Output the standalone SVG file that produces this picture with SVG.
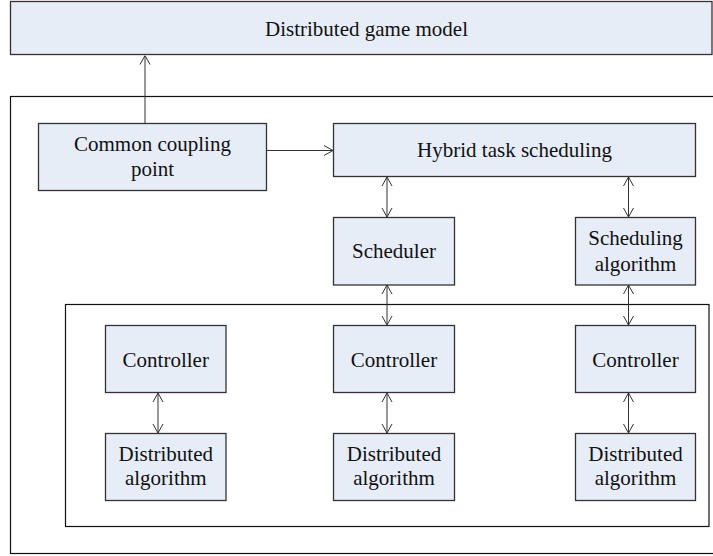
<svg xmlns="http://www.w3.org/2000/svg" width="713" height="556" viewBox="0 0 713 556">
<style>
.box{fill:#E7EDF7;stroke:#333;stroke-width:1.3}
.frame{fill:none;stroke:#111;stroke-width:1.2}
.t{font-family:'Liberation Serif',serif;font-size:21px;fill:#111;text-anchor:middle}
.c{stroke:#333;stroke-width:1;fill:none}
</style>
<defs>
<marker id="ah" viewBox="0 0 10 12" refX="10" refY="6" markerWidth="10" markerHeight="12" markerUnits="userSpaceOnUse" orient="auto-start-reverse">
<path d="M1,1 L10,6 L1,11" fill="none" stroke="#333" stroke-width="1"/>
</marker>
</defs>
<rect class="frame" x="10.5" y="96.5" width="712" height="457"/>
<rect class="frame" x="65.5" y="304.5" width="643.5" height="222"/>
<g id="connectors">
<line class="c" x1="145" y1="123" x2="145" y2="55.5" marker-end="url(#ah)"/>
<line class="c" x1="267" y1="150.5" x2="333" y2="150.5" marker-end="url(#ah)"/>
<line class="c" x1="387" y1="177" x2="387" y2="217" marker-start="url(#ah)" marker-end="url(#ah)"/>
<line class="c" x1="628.5" y1="177" x2="628.5" y2="217" marker-start="url(#ah)" marker-end="url(#ah)"/>
<line class="c" x1="387" y1="285" x2="387" y2="325" marker-start="url(#ah)" marker-end="url(#ah)"/>
<line class="c" x1="628.5" y1="285" x2="628.5" y2="325" marker-start="url(#ah)" marker-end="url(#ah)"/>
<line class="c" x1="158" y1="393" x2="158" y2="433" marker-start="url(#ah)" marker-end="url(#ah)"/>
<line class="c" x1="387" y1="393" x2="387" y2="433" marker-start="url(#ah)" marker-end="url(#ah)"/>
<line class="c" x1="628.5" y1="393" x2="628.5" y2="433" marker-start="url(#ah)" marker-end="url(#ah)"/>
</g>
<g id="model">
<rect class="box" x="10.5" y="1.5" width="701.5" height="53"/>
<text class="t" x="366.5" y="36">Distributed game model</text>
</g>
<g id="coupling">
<rect class="box" x="38.5" y="123.5" width="228" height="67"/>
<text class="t" x="152.5" y="151">Common coupling</text>
<text class="t" x="152.5" y="176">point</text>
</g>
<g id="hybrid">
<rect class="box" x="333.5" y="123.5" width="362" height="53"/>
<text class="t" x="514.5" y="157">Hybrid task scheduling</text>
</g>
<g id="scheduler">
<rect class="box" x="333.5" y="217.5" width="121" height="67.5"/>
<text class="t" x="394" y="258">Scheduler</text>
</g>
<g id="schedalg">
<rect class="box" x="575.5" y="217.5" width="120" height="67.5"/>
<text class="t" x="635.5" y="245">Scheduling</text>
<text class="t" x="635.5" y="271">algorithm</text>
</g>
<g id="ctrl1">
<rect class="box" x="105.5" y="325.5" width="120.5" height="67"/>
<text class="t" x="165.75" y="366.5">Controller</text>
</g>
<g id="ctrl2">
<rect class="box" x="333.5" y="325.5" width="121" height="67"/>
<text class="t" x="394" y="366.5">Controller</text>
</g>
<g id="ctrl3">
<rect class="box" x="575.5" y="325.5" width="120" height="67"/>
<text class="t" x="635.5" y="366.5">Controller</text>
</g>
<g id="dist1">
<rect class="box" x="105.5" y="433.5" width="120.5" height="67"/>
<text class="t" x="165.75" y="461">Distributed</text>
<text class="t" x="165.75" y="484.5">algorithm</text>
</g>
<g id="dist2">
<rect class="box" x="333.5" y="433.5" width="121" height="67"/>
<text class="t" x="394" y="461">Distributed</text>
<text class="t" x="394" y="484.5">algorithm</text>
</g>
<g id="dist3">
<rect class="box" x="575.5" y="433.5" width="120" height="67"/>
<text class="t" x="635.5" y="461">Distributed</text>
<text class="t" x="635.5" y="484.5">algorithm</text>
</g>
</svg>
